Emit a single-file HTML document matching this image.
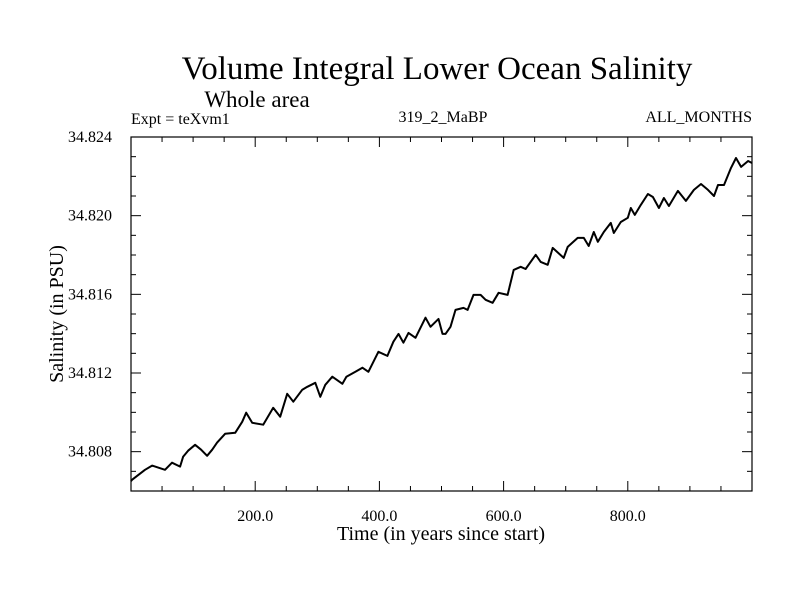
<!DOCTYPE html>
<html><head><meta charset="utf-8"><style>
body{margin:0;background:#fff}
svg text{font-family:"Liberation Serif",serif;fill:#000}
</style></head><body>
<svg id="chart" width="800" height="600" viewBox="0 0 800 600" xmlns="http://www.w3.org/2000/svg">
<rect width="800" height="600" fill="#fff"/>
<text x="437" y="79" font-size="33" text-anchor="middle">Volume Integral Lower Ocean Salinity</text>
<text x="257" y="107" font-size="23" text-anchor="middle">Whole area</text>
<text x="131" y="124" font-size="16">Expt = teXvm1</text>
<text x="443" y="122" font-size="16" text-anchor="middle">319_2_MaBP</text>
<text x="752" y="122" font-size="16" text-anchor="end">ALL_MONTHS</text>
<text x="441" y="540" font-size="20" text-anchor="middle">Time (in years since start)</text>
<text transform="translate(63,314) rotate(-90)" font-size="20" text-anchor="middle">Salinity (in PSU)</text>
<g id="axes"></g>
<path id="series" fill="none" stroke="#000" stroke-width="2" stroke-linejoin="round"/>
<rect x="131" y="137" width="621" height="354" fill="none" stroke="#000" stroke-width="1.2"/>
</svg>
<script>
const years=[0,1.6,22.6,33.9,54.8,66.1,79,83.9,91.9,103.2,112.9,122.6,130.7,138.7,151.6,167.8,179,185.5,195.2,212.9,229,240.3,251.6,261.3,275.8,283.9,296.8,304.9,312.9,324.2,340.4,346.8,361.3,372.6,382.3,398.4,412.9,422.6,430.7,438.7,446.8,458.1,474.2,482.3,495.2,501.6,506.5,514.5,522.6,535.5,542,551.6,562.9,571,582.3,592,606.5,616.2,627.5,635.5,651.7,659.7,671,679.1,696.8,703.3,719.4,729.1,737.1,745.2,751.7,761.3,772.6,777.5,788.8,800,804.9,811.3,821,832.3,840.4,850,858.1,866.2,880.7,893.6,906.5,917.8,929.1,938.8,945.2,954.9,966.2,974.3,982.4,993.7,1000];
const salinity=[34.80650,34.80657,34.80708,34.80729,34.80708,34.80744,34.80724,34.80774,34.80805,34.80835,34.80810,34.80779,34.80810,34.80846,34.80891,34.80896,34.80952,34.80998,34.80947,34.80937,34.81023,34.80978,34.81094,34.81054,34.81115,34.81130,34.81150,34.81079,34.81140,34.81181,34.81145,34.81181,34.81206,34.81227,34.81206,34.81308,34.81287,34.81359,34.81399,34.81354,34.81404,34.81379,34.81481,34.81435,34.81475,34.81399,34.81399,34.81435,34.81521,34.81531,34.81521,34.81597,34.81597,34.81572,34.81557,34.81608,34.81597,34.81724,34.81740,34.81729,34.81801,34.81765,34.81750,34.81836,34.81785,34.81841,34.81887,34.81887,34.81846,34.81917,34.81867,34.81917,34.81963,34.81912,34.81968,34.81989,34.82039,34.82004,34.82055,34.82110,34.82095,34.82039,34.82090,34.82049,34.82126,34.82075,34.82131,34.82161,34.82131,34.82100,34.82156,34.82156,34.82243,34.82293,34.82248,34.82278,34.82268];
const xTickValues=[200,400,600,800];
const xTickLabels=["200.0","400.0","600.0","800.0"];
const yTickValues=[34.808,34.812,34.816,34.820,34.824];
const yTickLabels=["34.808","34.812","34.816","34.820","34.824"];
const X0=131,X1=752,Y0=491,Y1=137,XMIN=0,XMAX=1000,YMIN=34.806,YMAX=34.824;
function sx(v){return X0+(v-XMIN)/(XMAX-XMIN)*(X1-X0);}
function sy(v){return Y0-(v-YMIN)/(YMAX-YMIN)*(Y0-Y1);}
const NS="http://www.w3.org/2000/svg";
const axes=document.getElementById('axes');
function line(x1,y1,x2,y2,name){
  const l=document.createElementNS(NS,'line');
  l.setAttribute('x1',x1);l.setAttribute('y1',y1);l.setAttribute('x2',x2);l.setAttribute('y2',y2);
  l.setAttribute('stroke','#000');l.setAttribute('stroke-width','1');
  
  
  axes.appendChild(l);
}
function text(x,y,s,anchor,name){
  const t=document.createElementNS(NS,'text');
  t.setAttribute('x',x);t.setAttribute('y',y);t.setAttribute('font-size','16');t.setAttribute('text-anchor',anchor);
  t.textContent=s;
  
  
  axes.appendChild(t);
}
for(let v=50;v<XMAX;v+=50){
  const x=sx(v),len=(v%200===0)?10:5;
  line(x,Y0,x,Y0-len,'x-tick');
  line(x,Y1,x,Y1+len,'x-tick-top');
}
for(let k=1;k<18;k++){
  const v=YMIN+k*0.001,y=sy(v),len=(k%4===2)?10:5;
  line(X0,y,X0+len,y,'y-tick');
  line(X1,y,X1-len,y,'y-tick-right');
}
xTickValues.forEach((v,i)=>text(sx(v),521,xTickLabels[i],'middle','x-tick-label'));
yTickValues.forEach((v,i)=>text(112,sy(v)+5,yTickLabels[i],'end','y-tick-label'));
let d='';
years.forEach((v,i)=>{d+=(i?'L':'M')+sx(v).toFixed(1)+','+sy(salinity[i]).toFixed(1);});
document.getElementById('series').setAttribute('d',d);
</script>
</body></html>
